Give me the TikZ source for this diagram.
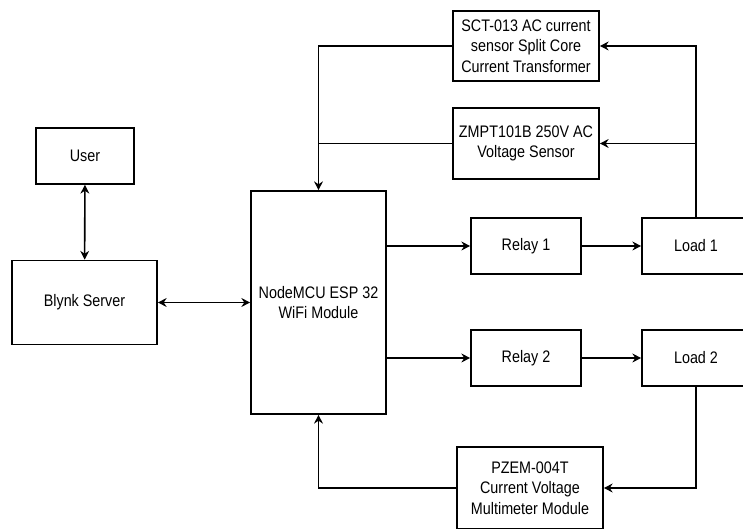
\documentclass[tikz,border=0pt]{standalone}
\usepackage{fontspec}
\setmainfont{Liberation Sans}[FakeStretch=0.86]
\usepackage{tikz}
\usetikzlibrary{calc}
\usetikzlibrary{arrows,shapes,positioning}
\usetikzlibrary{arrows.meta}

\begin{document}
\begin{tikzpicture}[
		block/.style={rectangle, draw, line width=0.9pt, align=center, inner sep=1pt,
			font=\fontsize{9.5}{11.7}\selectfont, text=black},
		arr/.style={line width=0.9pt, -{Stealth[length=5pt, width=5pt]}},
		darr/.style={line width=0.9pt, {Stealth[length=5pt, width=5pt]}-{Stealth[length=5pt, width=5pt]}}
		]
		\clip (0,0) rectangle (14.86,10.56);
		
		% Blocks
		\node[block, minimum width=1.96cm, minimum height=1.12cm] (user) at (1.70,7.44) {User};
		\node[block, minimum width=2.90cm, minimum height=1.68cm] (blynk) at (1.69,4.51) {Blynk Server};
		\node[block, minimum width=2.70cm, minimum height=4.46cm] (mcu) at (6.37,4.51) {NodeMCU ESP 32\\WiFi Module};
		
		\node[block, minimum width=2.92cm, minimum height=1.40cm] (sct) at (10.52,9.64) {SCT-013 AC current\\sensor Split Core\\Current Transformer};
		\node[block, minimum width=2.92cm, minimum height=1.42cm] (zmpt) at (10.52,7.69) {ZMPT101B 250V AC\\Voltage Sensor};
		
		\node[block, minimum width=2.20cm, minimum height=1.12cm] (relay1) at (10.52,5.64) {Relay 1};
		\node[block, minimum width=2.16cm, minimum height=1.12cm] (load1) at (13.92,5.64) {Load 1};
		\node[block, minimum width=2.20cm, minimum height=1.12cm] (relay2) at (10.52,3.40) {Relay 2};
		\node[block, minimum width=2.16cm, minimum height=1.12cm] (load2) at (13.92,3.40) {Load 2};
		
		\node[block, minimum width=2.92cm, minimum height=1.64cm] (pzem) at (10.60,0.80) {PZEM-004T\\Current Voltage\\Multimeter Module};
		
		% Connections
		\draw[darr] (user) -- (blynk);
		\draw[darr] (blynk) -- (mcu);
		
		\draw[arr] (mcu.east |- relay1) -- (relay1);
		\draw[arr] (mcu.east |- relay2) -- (relay2);
		\draw[arr] (relay1) -- (load1);
		\draw[arr] (relay2) -- (load2);
		
		\draw[arr] (load1.north) |- (sct.east);
		\draw[arr] (load1.north |- zmpt.east) -- (zmpt.east);
		\draw[arr] (sct.west) -| (mcu.north);
		\draw (zmpt.west) -- (mcu.north |- zmpt.west);
		
		\draw[arr] (load2.south) |- (pzem.east);
		\draw[arr] (pzem.west) -| (mcu.south);
		
	\end{tikzpicture}
\end{document}
